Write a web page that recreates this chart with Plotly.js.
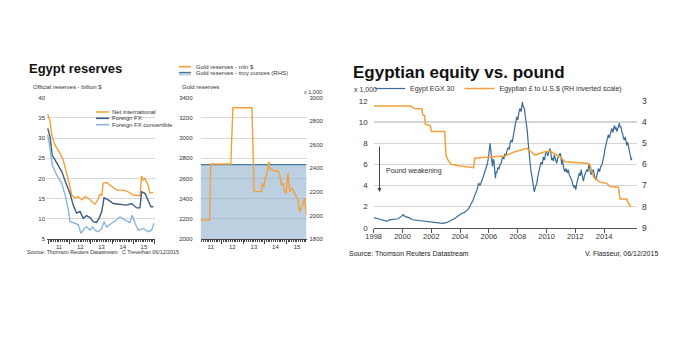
<!DOCTYPE html>
<html><head><meta charset="utf-8">
<script src="https://cdn.plot.ly/plotly-3.0.1.min.js"></script>
<style>html,body{margin:0;padding:0;background:#fff;}#chart{width:692px;height:338px;}</style>
</head><body><div id="chart"></div>
<script>
// ---------- Panel 1: Egypt official reserves (billion $), x in decimal years ----------
const netYears = [2010.97,2011.08,2011.16,2011.31,2011.55,2011.70,2011.86,2011.97,2012.10,2012.25,2012.41,2012.57,2012.72,2012.88,2013.04,2013.19,2013.32,2013.43,2013.51,2013.58,2013.74,2013.98,2014.21,2014.52,2014.76,2014.99,2015.31,2015.39,2015.47,2015.55,2015.63,2015.70,2015.78,2015.94];
const netIntl  = [35.9,34.1,30.8,28.3,26.2,24.6,21.3,18.4,15.9,15.1,15.5,14.7,15.5,15.1,14.2,13.6,14.7,16.1,15.7,18.8,19.0,18.0,17.1,17.1,16.7,15.9,15.7,20.6,19.6,20.0,19.2,18.2,16.4,16.5];
const fxYears  = [2010.97,2011.08,2011.18,2011.39,2011.63,2011.86,2012.02,2012.17,2012.33,2012.49,2012.64,2012.80,2012.96,2013.11,2013.27,2013.40,2013.51,2013.62,2013.82,2014.05,2014.37,2014.68,2014.92,2015.16,2015.31,2015.39,2015.55,2015.74,2015.83,2015.94];
const foreignFX = [32.4,30.3,25.8,23.8,21.7,18.4,16.3,13.4,11.4,11.8,10.1,10.8,10.3,9.3,9.1,10.3,11.8,15.2,14.7,13.8,13.6,13.4,13.8,12.7,12.7,16.7,16.3,14.2,13.0,13.0];
const convYears = [2010.97,2011.08,2011.18,2011.39,2011.63,2011.81,2011.94,2012.02,2012.25,2012.41,2012.53,2012.69,2012.80,2012.96,2013.07,2013.19,2013.35,2013.51,2013.62,2013.74,2013.98,2014.21,2014.37,2014.60,2014.84,2014.95,2015.08,2015.23,2015.47,2015.70,2015.86,2015.97];
const fxConvertible = [30.8,27.5,23.3,20.9,18.8,15.5,12.2,9.3,8.9,8.5,6.4,7.6,8.0,7.2,8.0,7.2,6.8,7.6,9.3,8.0,8.9,9.7,10.5,9.7,9.1,10.9,8.9,7.2,7.6,6.8,7.2,8.9];

// ---------- Panel 2: Gold reserves ----------
const goldYears = [2011.03,2011.45,2011.50,2012.43,2012.53,2013.41,2013.51,2013.85,2013.89,2013.96,2014.03,2014.12,2014.19,2014.25,2014.34,2014.47,2014.62,2014.70,2014.77,2014.85,2014.93,2015.00,2015.08,2015.16,2015.27,2015.39,2015.55,2015.62,2015.73,2015.86,2015.93];
const goldMln   = [2188,2188,2743,2743,3301,3301,2469,2469,2552,2518,2602,2667,2766,2694,2684,2674,2674,2634,2535,2552,2469,2453,2651,2469,2502,2453,2387,2271,2321,2403,2238];
const ozYears = [2011.03,2012.0,2013.0,2014.0,2015.0,2015.94];
const goldOz  = [2432,2432,2432,2432,2432,2432]; // thousand troy ounces

// ---------- Panel 3: EGX 30 (x1,000) and EGP per USD ----------
const egxYears = [1998.0,1998.2,1998.45,1998.7,1998.9,1999.1,1999.4,1999.7,1999.9,2000.05,2000.2,2000.45,2000.7,2001.0,2001.3,2001.7,2002.0,2002.4,2002.8,2003.1,2003.4,2003.7,2003.9,2004.1,2004.3,2004.5,2004.6,2004.7,2004.8,2004.9,2004.97,2005.05,2005.12,2005.2,2005.25,2005.3,2005.38,2005.45,2005.52,2005.6,2005.67,2005.75,2005.82,2005.9,2005.96,2006.0,2006.05,2006.08,2006.11,2006.15,2006.2,2006.25,2006.3,2006.35,2006.4,2006.45,2006.5,2006.55,2006.62,2006.7,2006.78,2006.85,2006.9,2006.97,2007.04,2007.1,2007.18,2007.25,2007.35,2007.42,2007.47,2007.55,2007.62,2007.7,2007.78,2007.85,2007.93,2008.0,2008.08,2008.16,2008.24,2008.32,2008.38,2008.46,2008.52,2008.58,2008.66,2008.74,2008.82,2008.92,2008.98,2009.05,2009.1,2009.15,2009.22,2009.32,2009.4,2009.47,2009.55,2009.62,2009.7,2009.78,2009.86,2009.93,2010.0,2010.08,2010.16,2010.24,2010.3,2010.36,2010.42,2010.48,2010.54,2010.6,2010.7,2010.78,2010.86,2010.94,2011.0,2011.05,2011.1,2011.18,2011.28,2011.36,2011.44,2011.51,2011.58,2011.66,2011.75,2011.82,2011.9,2011.96,2012.03,2012.1,2012.2,2012.28,2012.34,2012.4,2012.47,2012.56,2012.63,2012.7,2012.79,2012.86,2012.95,2013.02,2013.09,2013.16,2013.25,2013.33,2013.42,2013.5,2013.6,2013.68,2013.76,2013.83,2013.92,2014.0,2014.06,2014.14,2014.22,2014.29,2014.36,2014.44,2014.53,2014.6,2014.66,2014.71,2014.78,2014.83,2014.88,2014.95,2015.0,2015.06,2015.1,2015.16,2015.22,2015.28,2015.34,2015.4,2015.46,2015.52,2015.57,2015.63,2015.68,2015.73,2015.79,2015.84,2015.87,2015.93];
const egx30 = [0.95,0.9,0.8,0.7,0.6,0.75,0.8,0.85,1.05,1.25,1.05,0.95,0.75,0.7,0.62,0.55,0.5,0.47,0.42,0.5,0.7,0.95,1.15,1.35,1.45,1.65,1.8,2.1,2.3,2.6,2.9,3.2,3.6,3.7,4.1,4.2,4.0,4.4,4.5,4.8,5.1,5.3,5.7,6.1,6.6,6.9,7.6,8.0,7.4,7.1,6.4,5.8,6.5,6.3,5.4,4.7,5.3,5.2,5.7,5.6,6.0,6.1,6.5,6.7,6.5,7.0,6.8,7.3,7.6,7.4,8.0,8.3,8.1,8.9,9.6,9.9,10.5,10.2,10.9,11.3,11.0,11.9,11.5,11.3,10.6,10.0,9.2,7.8,6.5,5.3,4.9,4.2,3.9,3.4,3.8,4.2,4.9,5.5,5.8,6.2,6.0,6.7,6.4,7.0,7.2,6.8,7.3,7.5,7.1,6.4,6.6,6.3,6.9,6.5,6.1,6.6,6.8,7.05,6.7,6.0,6.4,5.7,5.3,5.6,5.2,5.5,5.0,4.8,4.5,4.1,3.8,4.0,3.6,4.2,4.8,5.2,4.9,5.5,5.0,4.4,4.9,5.1,5.5,5.3,6.1,5.4,5.0,5.3,5.5,4.9,4.5,5.0,5.6,5.3,5.8,5.9,6.4,6.9,7.5,7.9,8.5,8.8,8.5,9.1,9.4,9.0,9.6,9.7,9.3,9.5,9.1,9.4,9.6,9.9,9.5,9.6,9.1,8.9,8.5,8.3,8.6,8.0,7.8,8.1,7.6,7.4,7.0,6.7,6.4,6.6];
const egpYears = [1998.0,2000.59,2000.78,2001.35,2001.4,2001.54,2001.58,2001.93,2002.0,2002.93,2003.02,2003.16,2003.39,2003.9,2004.94,2005.01,2005.29,2007.12,2007.81,2008.63,2009.2,2009.9,2010.24,2010.94,2011.28,2012.79,2013.02,2013.25,2013.72,2014.18,2014.41,2014.99,2015.1,2015.57,2015.68,2015.87];
const egpUsd   = [3.24,3.24,3.35,3.38,3.66,3.7,4.1,4.17,4.45,4.45,5.56,5.8,6.0,6.07,6.16,5.72,5.69,5.6,5.4,5.24,5.56,5.4,5.37,5.64,5.88,5.95,6.03,6.59,6.85,6.9,7.05,7.08,7.64,7.64,7.85,8.0];

// tick labels
const p1Ticks = [5,10,15,20,25,30,35,40];
const p2LeftTicks = [2000,2200,2400,2600,2800,3000,3200,3400];
const p2RightTicks = [1800,2000,2200,2400,2600,2800,3000];
const p3YearTicks = ['1998','2000','2002','2004','2006','2008','2010','2012','2014'];
const p3LeftTicks = [0,2,4,6,8,10,12];
const p3RightTicks = [3,4,5,6,7,8,9];

function toDate(v){
  const y = Math.floor(v);
  const s = Date.UTC(y,0,1), e = Date.UTC(y+1,0,1);
  return new Date(s + (v-y)*(e-s)).toISOString().slice(0,19);
}
const D = a => a.map(toDate);

const ORANGE = '#F4A03A', DBLUE = '#3D5B7E', LBLUE = '#8DB4DA', EBLUE = '#3A6A96';
const FONT = '"Liberation Sans", Arial, sans-serif';
const W = 692, H = 338;
const px = x => x / W, py = y => 1 - y / H;

const traces = [
  {x:D(netYears), y:netIntl, xaxis:'x', yaxis:'y', type:'scatter', mode:'lines', name:'Net international', line:{color:ORANGE,width:1.4}, showlegend:false},
  {x:D(fxYears), y:foreignFX, xaxis:'x', yaxis:'y', type:'scatter', mode:'lines', name:'Foreign FX', line:{color:DBLUE,width:1.4}, showlegend:false},
  {x:D(convYears), y:fxConvertible, xaxis:'x', yaxis:'y', type:'scatter', mode:'lines', name:'Foreign FX convertible', line:{color:LBLUE,width:1.4}, showlegend:false},
  {x:D(ozYears), y:goldOz, xaxis:'x2', yaxis:'y2', type:'scatter', mode:'lines', fill:'tozeroy', fillcolor:'rgba(133,170,200,0.55)', name:'Gold reserves - troy ounces (RHS)', line:{color:'#4A77A0',width:1.3}, showlegend:false},
  {x:D(goldYears), y:goldMln, xaxis:'x2', yaxis:'y3', type:'scatter', mode:'lines', name:'Gold reserves - mln $', line:{color:ORANGE,width:1.4}, showlegend:false},
  {x:D(egxYears), y:egx30, xaxis:'x3', yaxis:'y4', type:'scatter', mode:'lines', name:'Egypt EGX 30', line:{color:EBLUE,width:1.2}, showlegend:true},
  {x:D(egpYears), y:egpUsd, xaxis:'x3', yaxis:'y5', type:'scatter', mode:'lines', name:'Egyptian \u00a3 to U.S.$ (RH inverted scale)', line:{color:ORANGE,width:1.5}, showlegend:true}
];

const gridC = '#d9d9d9', axC = '#444';
const smallAxisX = (dom, anchor, r) => ({
  domain:dom, anchor:anchor, type:'date', range:r, dtick:'M12', tick0:'2011-01-01', tickformat:'%y',
  ticklabelmode:'period', ticks:'outside', ticklen:4, tickcolor:axC, tickwidth:1, showline:true, linecolor:axC, linewidth:1,
  showgrid:false, zeroline:false, tickfont:{size:6, color:'#333'}, ticklabelstandoff:-2,
  minor:{dtick:'M1', ticks:'outside', ticklen:2, tickcolor:axC, showgrid:false}
});

const layout = {
  width:W, height:H, margin:{l:0,r:0,t:0,b:0}, paper_bgcolor:'#fff', plot_bgcolor:'rgba(0,0,0,0)',
  font:{family:FONT, color:'#333', size:7}, showlegend:true,
  xaxis: smallAxisX([px(47), px(155)], 'y', [toDate(2010.935), toDate(2016.02)]),
  yaxis: {domain:[py(239), py(97.7)], anchor:'x', range:[5,40], tickvals:p1Ticks, showgrid:true, gridcolor:gridC, zeroline:false, ticks:'', tickfont:{size:6}, ticklabelstandoff:1},
  xaxis2: smallAxisX([px(200.5), px(306.5)], 'y2', [toDate(2011.027), toDate(2015.94)]),
  yaxis2: {domain:[py(239), py(97.7)], anchor:'x2', side:'right', range:[1800,3000], tickvals:p2RightTicks, showgrid:false, zeroline:false, ticks:'', tickfont:{size:6}, ticklabelstandoff:2},
  yaxis3: {overlaying:'y2', anchor:'x2', side:'left', range:[2000,3400], tickvals:p2LeftTicks, showgrid:true, gridcolor:gridC, zeroline:false, ticks:'', tickfont:{size:6}, ticklabelstandoff:7},
  xaxis3: {domain:[px(373.7), px(637)], anchor:'y4', type:'date', range:[toDate(1998.0), toDate(2016.28)], tickvals:p3YearTicks.map(y=>y+'-01-01'), ticktext:p3YearTicks,
           ticks:'outside', ticklen:4, tickcolor:'#555', showline:true, linecolor:'#555', linewidth:1, showgrid:false, zeroline:false, tickfont:{size:7.5, color:'#333'}, ticklabelstandoff:-3},
  yaxis4: {domain:[py(227.7), py(101)], anchor:'x3', range:[0,12], tickvals:p3LeftTicks, showgrid:true, gridcolor:'#d4d4d4', gridwidth:1.3, zeroline:false, ticks:'', tickfont:{size:8}, ticklabelstandoff:5},
  yaxis5: {overlaying:'y4', anchor:'x3', side:'right', range:[9,3], tickvals:p3RightTicks, showgrid:false, zeroline:false, ticks:'', tickfont:{size:8.5}, ticklabelstandoff:4},
  legend: {orientation:'h', x:px(370), xanchor:'left', y:py(74), yanchor:'top', font:{size:7, color:'#333'}, bgcolor:'rgba(0,0,0,0)', traceorder:'normal'},
  shapes: [
    {type:'line', xref:'paper', yref:'paper', x0:px(96), x1:px(109), y0:py(112), y1:py(112), line:{color:ORANGE,width:1.6}},
    {type:'line', xref:'paper', yref:'paper', x0:px(96), x1:px(109), y0:py(118.3), y1:py(118.3), line:{color:DBLUE,width:1.6}},
    {type:'line', xref:'paper', yref:'paper', x0:px(96), x1:px(109), y0:py(124.7), y1:py(124.7), line:{color:LBLUE,width:1.6}},
    {type:'line', xref:'paper', yref:'paper', x0:px(179), x1:px(191), y0:py(66.7), y1:py(66.7), line:{color:ORANGE,width:1.6}},
    {type:'rect', xref:'paper', yref:'paper', x0:px(179), x1:px(191), y0:py(75.5), y1:py(72.3), fillcolor:'rgba(133,170,200,0.55)', line:{width:0}},
    {type:'line', xref:'paper', yref:'paper', x0:px(179), x1:px(191), y0:py(72.5), y1:py(72.5), line:{color:'#4A77A0',width:1.3}}
  ],
  annotations: [
    {text:'<b>Egypt reserves</b>', xref:'paper', yref:'paper', x:px(27), y:py(68.5), xanchor:'left', yanchor:'middle', showarrow:false, font:{size:13, color:'#111'}},
    {text:'Official reserves - billion $', xref:'paper', yref:'paper', x:px(30.5), y:py(87.3), xanchor:'left', yanchor:'middle', showarrow:false, font:{size:6, color:'#333'}},
    {text:'Net international', xref:'paper', yref:'paper', x:px(110), y:py(112), xanchor:'left', yanchor:'middle', showarrow:false, font:{size:6, color:'#333'}},
    {text:'Foreign FX', xref:'paper', yref:'paper', x:px(110), y:py(118.3), xanchor:'left', yanchor:'middle', showarrow:false, font:{size:6, color:'#333'}},
    {text:'Foreign FX convertible', xref:'paper', yref:'paper', x:px(110), y:py(124.7), xanchor:'left', yanchor:'middle', showarrow:false, font:{size:6, color:'#333'}},
    {text:'Gold reserves - mln $', xref:'paper', yref:'paper', x:px(194), y:py(66.7), xanchor:'left', yanchor:'middle', showarrow:false, font:{size:6, color:'#333'}},
    {text:'Gold reserves - troy ounces (RHS)', xref:'paper', yref:'paper', x:px(194), y:py(73.3), xanchor:'left', yanchor:'middle', showarrow:false, font:{size:6, color:'#333'}},
    {text:'Gold reserves', xref:'paper', yref:'paper', x:px(180), y:py(86.7), xanchor:'left', yanchor:'middle', showarrow:false, font:{size:6, color:'#333'}},
    {text:'x 1,000', xref:'paper', yref:'paper', x:px(302), y:py(92), xanchor:'left', yanchor:'middle', showarrow:false, font:{size:5.5, color:'#333'}},
    {text:'Source: Thomson Reuters Datastream   C Trevethan 06/12/2015', xref:'paper', yref:'paper', x:px(25), y:py(251.7), xanchor:'left', yanchor:'middle', showarrow:false, font:{size:5.3, color:'#333'}},
    {text:'<b>Egyptian equity vs. pound</b>', xref:'paper', yref:'paper', x:px(351), y:py(72.5), xanchor:'left', yanchor:'middle', showarrow:false, font:{size:17, color:'#111'}},
    {text:'x 1,000', xref:'paper', yref:'paper', x:px(352), y:py(89.3), xanchor:'left', yanchor:'middle', showarrow:false, font:{size:7, color:'#333'}},
    {text:'Pound weakening', xref:'paper', yref:'paper', x:px(384), y:py(171), xanchor:'left', yanchor:'middle', showarrow:false, font:{size:7, color:'#333'}},
    {text:'', xref:'paper', yref:'paper', x:px(379.5), y:py(192), ax:0, ay:-47, showarrow:true, arrowhead:2, arrowsize:0.8, arrowwidth:1, arrowcolor:'#444'},
    {text:'Source: Thomson Reuters Datastream', xref:'paper', yref:'paper', x:px(347), y:py(254), xanchor:'left', yanchor:'middle', showarrow:false, font:{size:7, color:'#222'}},
    {text:'V. Flasseur, 06/12/2015', xref:'paper', yref:'paper', x:px(660), y:py(254), xanchor:'right', yanchor:'middle', showarrow:false, font:{size:7, color:'#222'}}
  ]
};

Plotly.newPlot('chart', traces, layout, {displayModeBar:false, staticPlot:true});
</script>
</body></html>
